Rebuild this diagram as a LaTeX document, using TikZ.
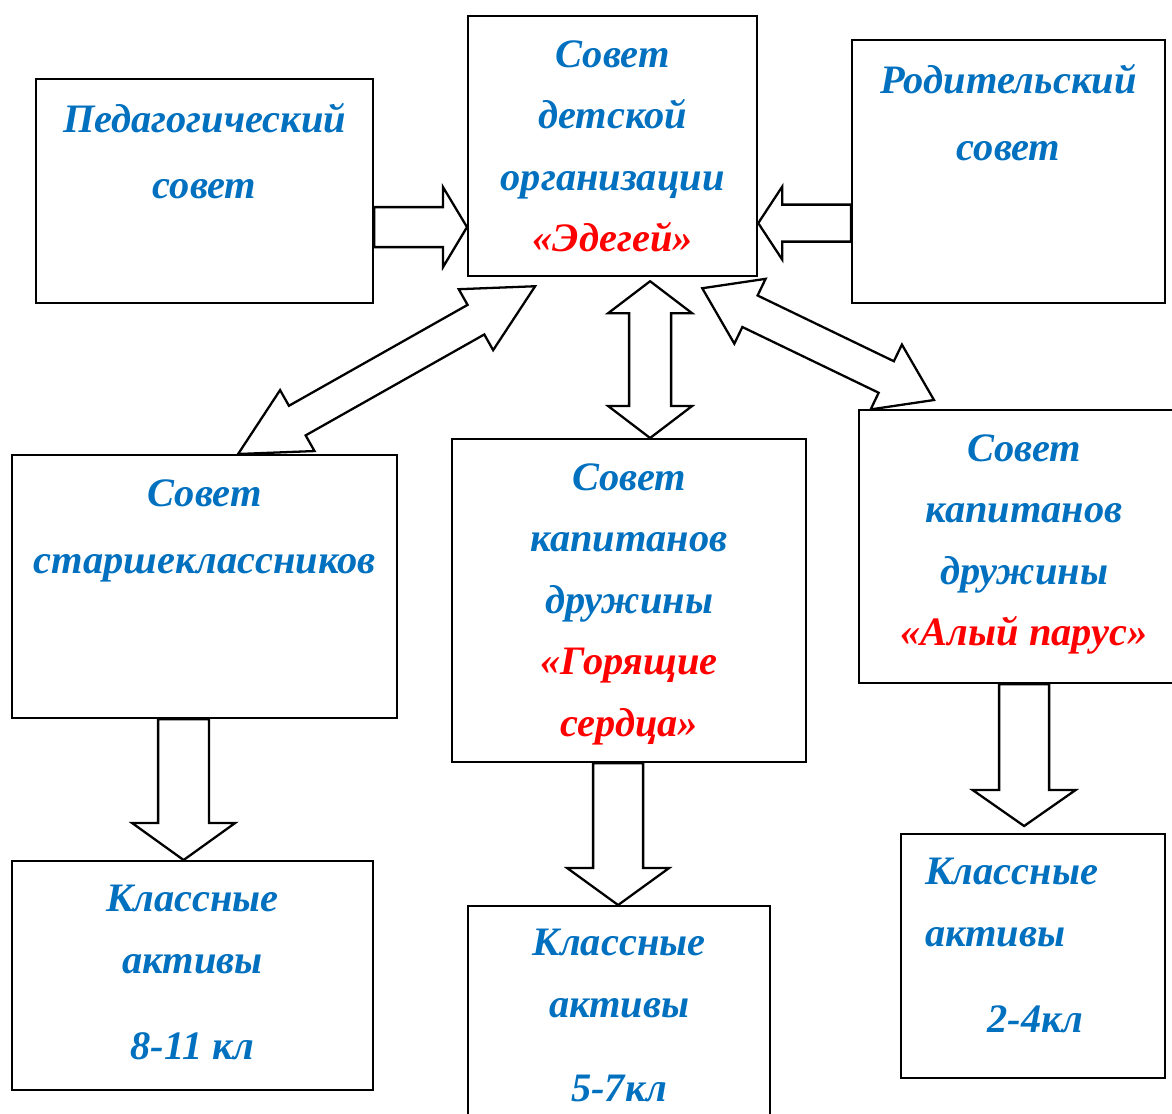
\documentclass[tikz,border=0pt]{standalone}
\usepackage{fontspec}
\setmainfont{Liberation Serif}
\usetikzlibrary{calc}
\usetikzlibrary{positioning}
\definecolor{oblue}{rgb}{0, 0.44, 0.75}
\definecolor{ored}{rgb}{1, 0, 0}
\tikzset{box/.style = {draw, line width=1.3pt, anchor=north west, inner sep=0}}
\tikzset{txt/.style = {text=oblue, font=\bfseries\itshape\fontsize{23}{35}\selectfont,
                       align=center, inner sep=0, anchor=north}}
\tikzset{fat/.style = {draw, line width=1.3pt, fill=white, line join=miter}}
% block arrow: tail, tip, shaft half width, head half width, head length
\newcommand{\blockarrow}[5]{%
  \coordinate (hb) at ($(#2)!#5!(#1)$);
  \draw [fat] ($(#1)!#3!90:(#2)$) -- ($(hb)!#3!90:(#2)$) -- ($(hb)!#4!90:(#2)$)
    -- (#2) -- ($(hb)!#4!-90:(#2)$) -- ($(hb)!#3!-90:(#2)$)
    -- ($(#1)!#3!-90:(#2)$) -- cycle;
}
% double block arrow: tip, tip, shaft half width, head half width, head length
\newcommand{\dblarrow}[5]{%
  \coordinate (ha) at ($(#1)!#5!(#2)$);
  \coordinate (hb) at ($(#2)!#5!(#1)$);
  \draw [fat] (#1) -- ($(ha)!#4!90:(#2)$) -- ($(ha)!#3!90:(#2)$)
    -- ($(hb)!#3!90:(#2)$) -- ($(hb)!#4!90:(#2)$) -- (#2)
    -- ($(hb)!#4!-90:(#2)$) -- ($(hb)!#3!-90:(#2)$)
    -- ($(ha)!#3!-90:(#2)$) -- ($(ha)!#4!-90:(#2)$) -- cycle;
}

\begin{document}
\begin{tikzpicture}[x=0.02cm, y=-0.02cm]
  \useasboundingbox (0,0) rectangle (1172,1113);

  \node [box, minimum width=6.74cm, minimum height=4.48cm] (ped) at (35,78) {};
  \node [box, minimum width=5.78cm, minimum height=5.2cm] (org) at (467,15) {};
  \node [box, minimum width=6.26cm, minimum height=5.26cm] (rod) at (851,39) {};
  \node [box, minimum width=7.7cm, minimum height=5.26cm] (starsh) at (11,454) {};
  \node [box, minimum width=7.08cm, minimum height=6.46cm] (gor) at (451,438) {};
  \node [box, minimum width=6.6cm, minimum height=5.46cm] (alyj) at (858,409) {};
  \node [box, minimum width=7.22cm, minimum height=4.58cm] (kl811) at (11,860) {};
  \node [box, minimum width=6.04cm, minimum height=4.6cm] (kl57) at (467,905) {};
  \node [box, minimum width=5.28cm, minimum height=4.88cm] (kl24) at (900,833) {};

  \node [txt] (ped-t) at ([yshift=-0.5cm]ped.north) {Педагогический\\[0.1cm] совет};
  \node [txt] (org-t) at ([yshift=-0.5cm]org.north)
    {Совет\\ детской\\ организации\\ \textcolor{ored}{«Эдегей»}};
  \node [txt] (rod-t) at ([yshift=-0.5cm]rod.north) {Родительский\\[0.12cm] совет};
  \node [txt] (starsh-t) at ([yshift=-0.5cm]starsh.north) {Совет\\[0.12cm] старшеклассников};
  \node [txt] (gor-t) at ([yshift=-0.5cm]gor.north)
    {Совет\\ капитанов\\ дружины\\ \textcolor{ored}{«Горящие}\\ \textcolor{ored}{сердца»}};
  \node [txt] (alyj-t) at ([yshift=-0.5cm]alyj.north)
    {Совет\\ капитанов\\ дружины\\ \textcolor{ored}{«Алый парус»}};
  \node [txt] (kl811-t) at ([yshift=-0.5cm]kl811.north) {Классные\\ активы\\[0.5cm] 8-11 кл};
  \node [txt] (kl57-t) at ([yshift=-0.48cm]kl57.north) {Классные\\ активы\\[0.46cm] 5-7кл};
  \node [txt, anchor=north west, align=left] (kl24-t) at ([xshift=0.5cm, yshift=-0.5cm]kl24.north west)
    {Классные\\ активы\\[0.5cm] \hspace*{1.24cm}2-4кл};

  % arrows into the council
  \coordinate (p1) at ([yshift=-0.72cm]ped.east);
  \coordinate (p2) at (org.west |- p1);
  \blockarrow{p1}{p2}{0.4cm}{0.8cm}{0.48cm}
  \coordinate (r1) at ([yshift=-1.03cm]rod.west);
  \coordinate (r2) at (org.east |- r1);
  \blockarrow{r1}{r2}{0.37cm}{0.73cm}{0.48cm}

  % double arrows
  \coordinate (v1) at ([xshift=0.42cm]gor.north);
  \coordinate (v2) at ([yshift=-0.08cm]org.south -| v1);
  \dblarrow{v2}{v1}{0.42cm}{0.84cm}{0.64cm}
  \coordinate (d1) at ([xshift=0.67cm]starsh.north);
  \coordinate (d2) at ([xshift=-1.55cm, yshift=-0.18cm]org.south);
  \dblarrow{d1}{d2}{0.34cm}{0.7cm}{1.36cm}
  \coordinate (e1) at ([xshift=-1.12cm, yshift=-0.22cm]org.south east);
  \coordinate (e2) at ([xshift=1.52cm, yshift=0.18cm]alyj.north west);
  \dblarrow{e1}{e2}{0.35cm}{0.72cm}{1.06cm}

  % arrows down to the classes
  \coordinate (s1) at ([xshift=-0.42cm]starsh.south);
  \coordinate (s2) at (s1 |- kl811.north);
  \blockarrow{s1}{s2}{0.51cm}{1.03cm}{0.74cm}
  \coordinate (g1) at ([xshift=-0.22cm]gor.south);
  \coordinate (g2) at (g1 |- kl57.north);
  \blockarrow{g1}{g2}{0.5cm}{1.02cm}{0.74cm}
  \coordinate (a1) at (alyj.south);
  \coordinate (a2) at ([yshift=0.14cm]a1 |- kl24.north);
  \blockarrow{a1}{a2}{0.5cm}{1.03cm}{0.72cm}
\end{tikzpicture}
\end{document}
